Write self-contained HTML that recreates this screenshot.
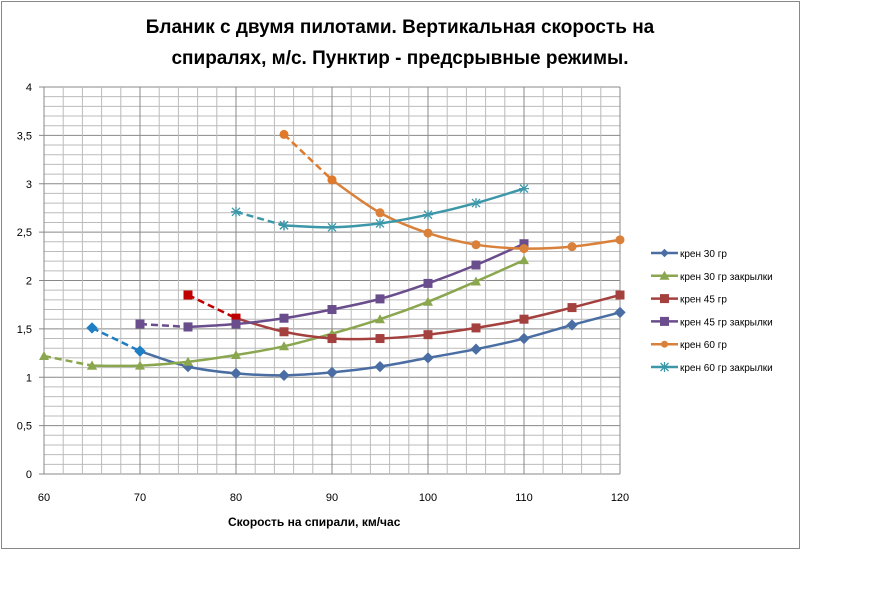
<!DOCTYPE html>
<html><head><meta charset="utf-8"><style>
body{margin:0;background:#fff;width:877px;height:590px;overflow:hidden}
svg{display:block;font-family:"Liberation Sans","DejaVu Sans",sans-serif}
</style></head><body>
<svg id="s" width="877" height="590" xmlns="http://www.w3.org/2000/svg"></svg>
<script>
const s=document.getElementById('s');
const X=v=>44+(v-60)*9.6, Y=u=>474-u*96.75;
let h='<rect x="1.5" y="1.5" width="798" height="547" fill="#fff" stroke="#888"/>';
h+='<text x="400" y="33" text-anchor="middle" font-size="19" font-weight="bold">Бланик с двумя пилотами. Вертикальная скорость на</text>';
h+='<text x="400" y="64" text-anchor="middle" font-size="19" font-weight="bold">спиралях, м/с. Пунктир - предсрывные режимы.</text>';
for(let i=0;i<=40;i++){const y=Y(i/10);h+=`<line x1="44" x2="620" y1="${y}" y2="${y}" stroke="${i%5?'#bbb':'#888'}" stroke-width="1"/>`;}
for(let v=60;v<=120;v+=2){const x=X(v);h+=`<line x1="${x}" x2="${x}" y1="${Y(4)}" y2="474" stroke="${v%10?'#bbb':'#888'}"/>`;}
for(let i=0;i<=8;i++){const u=i/2;h+=`<line x1="39" x2="44" y1="${Y(u)}" y2="${Y(u)}" stroke="#888"/><text x="32" y="${Y(u)+4}" text-anchor="end" font-size="11">${String(u).replace('.',',')}</text>`;}
for(let v=60;v<=120;v+=10){h+=`<text x="${X(v)}" y="501" text-anchor="middle" font-size="11">${v}</text>`;}
h+='<text x="228" y="526" font-size="12" font-weight="bold">Скорость  на спирали, км/час</text>';
function smooth(p){let d=`M${p[0][0]},${p[0][1]}`;for(let i=0;i<p.length-1;i++){const p0=p[i-1]||p[i],p1=p[i],p2=p[i+1],p3=p[i+2]||p2;
d+=`C${p1[0]+(p2[0]-p0[0])/6},${p1[1]+(p2[1]-p0[1])/6} ${p2[0]-(p3[0]-p1[0])/6},${p2[1]-(p3[1]-p1[1])/6} ${p2[0]},${p2[1]}`;}return d;}
function mk(t,x,y,c,sz){sz=sz||4;
if(t=='d')return `<rect x="${x-sz}" y="${y-sz}" width="${2*sz}" height="${2*sz}" fill="${c}" transform="rotate(45 ${x} ${y})" transform-origin="0 0"/>`;
if(t=='t')return `<polygon points="${x},${y-5} ${x+5},${y+4} ${x-5},${y+4}" fill="${c}"/>`;
if(t=='s')return `<rect x="${x-4.5}" y="${y-4.5}" width="9" height="9" fill="${c}"/>`;
if(t=='c')return `<circle cx="${x}" cy="${y}" r="4.5" fill="${c}"/>`;
if(t=='x')return `<path d="M${x-4},${y-4}L${x+4},${y+4}M${x-4},${y+4}L${x+4},${y-4}M${x},${y-5}V${y+5}M${x-5},${y}H${x+5}" stroke="${c}" stroke-width="1.3"/>`;}
const S=[
{c:'#4a6ea3',dc:'#1f7fc4',m:'d',d:[[65,1.51],[70,1.27]],p:[[70,1.27],[75,1.11],[80,1.04],[85,1.02],[90,1.05],[95,1.11],[100,1.2],[105,1.29],[110,1.4],[115,1.54],[120,1.67]]},
{c:'#8aa64e',dc:'#8aa64e',m:'t',d:[[60,1.22],[65,1.12]],p:[[65,1.12],[70,1.12],[75,1.16],[80,1.23],[85,1.32],[90,1.45],[95,1.6],[100,1.78],[105,1.99],[110,2.21]]},
{c:'#a4403e',dc:'#c00000',m:'s',d:[[75,1.85],[80,1.61]],p:[[80,1.61],[85,1.47],[90,1.4],[95,1.4],[100,1.44],[105,1.51],[110,1.6],[115,1.72],[120,1.85]]},
{c:'#6a4d8c',dc:'#6a4d8c',m:'s',d:[[70,1.55],[75,1.52]],p:[[75,1.52],[80,1.55],[85,1.61],[90,1.7],[95,1.81],[100,1.97],[105,2.16],[110,2.38]]},
{c:'#d9813a',dc:'#e07a2a',m:'c',d:[[85,3.51],[90,3.04]],p:[[90,3.04],[95,2.7],[100,2.49],[105,2.37],[110,2.33],[115,2.35],[120,2.42]]},
{c:'#3c97a8',dc:'#3c97a8',m:'x',d:[[80,2.71],[85,2.57]],p:[[85,2.57],[90,2.55],[95,2.59],[100,2.68],[105,2.8],[110,2.95]]}];
S.forEach(o=>{const P=o.p.map(a=>[X(a[0]),Y(a[1])]),D=o.d.map(a=>[X(a[0]),Y(a[1])]);
h+=`<path d="${smooth(P)}" fill="none" stroke="${o.c}" stroke-width="2.5"/>`;
h+=`<path d="M${D[0]}L${D[1]}" fill="none" stroke="${o.dc}" stroke-width="2.5" stroke-dasharray="7,4"/>`;
P.forEach(q=>h+=mk(o.m,q[0],q[1],o.c));D.forEach(q=>h+=mk(o.m,q[0],q[1],o.dc));});
const L=['крен 30 гр','крен 30 гр закрылки','крен 45 гр','крен 45 гр закрылки','крен 60 гр','крен 60 гр закрылки'];
L.forEach((t,i)=>{const y=253+i*22.8,o=S[i];h+=`<line x1="651" x2="678" y1="${y}" y2="${y}" stroke="${o.c}" stroke-width="2.5"/>`+mk(o.m,664.5,y,o.c,3).replace(/r="4.5"/,'r="3.5"')+`<text x="680" y="${y+4}" font-size="10">${t}</text>`;});
s.innerHTML=h;
</script>
</body></html>
